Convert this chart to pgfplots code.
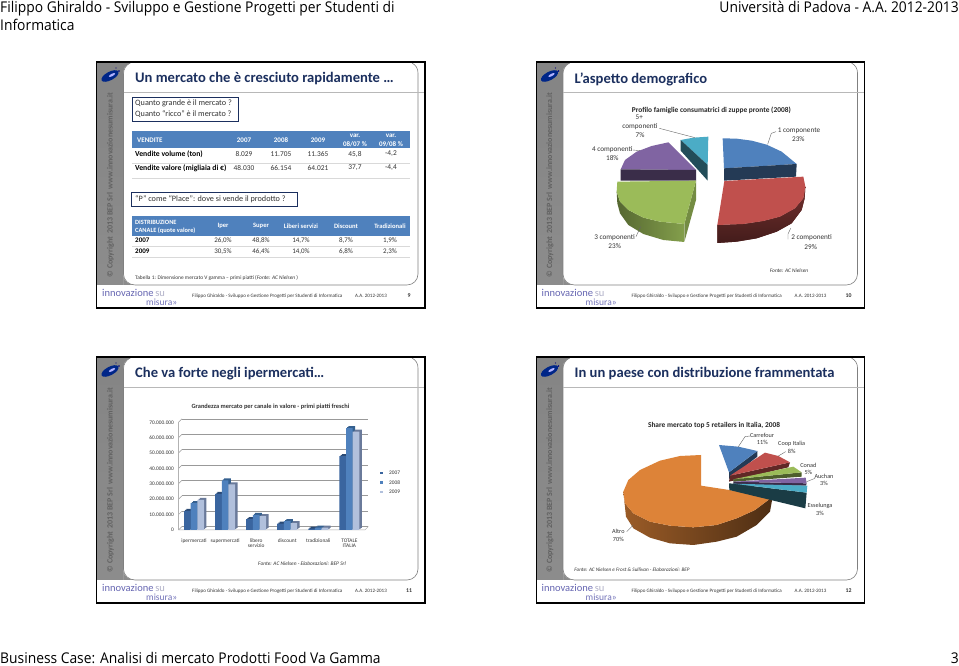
\documentclass[border=0pt]{standalone}
\usepackage{fontspec}
\usepackage{pgfplots}
\usepackage{pgfplotstable}
\pgfplotsset{compat=1.18}
\setmainfont{Carlito}
\newfontfamily\hdr[FakeStretch=0.935]{Open Sans}
\newcommand{\fs}[1]{\fontsize{#1}{#1}\selectfont}
\definecolor{navy}{HTML}{1B2F5E}
\definecolor{tabblue}{HTML}{4F81BD}
\definecolor{piered}{HTML}{C0504D}
\definecolor{piegreen}{HTML}{9BBB59}
\definecolor{piepurple}{HTML}{8064A2}
\definecolor{pieteal}{HTML}{4BACC6}
\definecolor{pieorange}{HTML}{DD8338}
\definecolor{txt}{HTML}{333333}
\definecolor{barA}{HTML}{3A659F}
\definecolor{barB}{HTML}{4F81BD}
\definecolor{barC}{HTML}{B1C0DC}
\definecolor{sideA}{HTML}{2A4A75}
\definecolor{sideB}{HTML}{35608F}
\definecolor{sideC}{HTML}{6A7A9A}
\pgfplotstableread{
x a b c
0 12.5 17.4 19.5
1 23.4 32.2 29.7
2 7.1 9.8 9.0
3 4.2 5.8 4.4
4 0.9 1.5 1.5
5 48.0 66.2 64.0
}\bardata
\newcommand{\slide}[4]{%
\begin{scope}[shift={(#1pt,-#2pt)}]
\shade[top color=black!48,middle color=black!28,bottom color=black!45] (97,63) rectangle (150,285);
\fill[white] (123.5,285) -- (123.5,72) to[out=90,in=180] (135,62.5) -- (407,62.5) to[out=0,in=90] (418,73) -- (418,274) to[out=-90,in=0] (407,285) -- (135,285) to[out=180,in=-90] (123.5,275) -- cycle;
\draw[black!50,line width=0.6pt] (130,63) to[out=-150,in=90] (123.5,74) -- (123.5,274) to[out=-90,in=180] (135,285) -- (407,285) to[out=0,in=-90] (418,274) -- (418,73) to[out=90,in=-30] (412,63);
\draw[black!28,line width=0.7pt] (123.5,92) -- (424,92);
\draw[black,line width=1.3pt] (96.7,62) rectangle (425,308);
\fill[white] (97.4,285.5) rectangle (123,307.4);
\node[anchor=west,inner sep=0pt,text=navy,font=\fs{14.6}\bfseries] at (135,79) {#3};
\node[rotate=90,text=black!62,font=\fs{8}\bfseries] at (110.5,185) {© Copyright\, 2013 BEP Srl\, www.innovazionesumisura.it};
\fill[blue!45!black!85!cyan,rotate around={28:(110,76)}] (110,76) ellipse (9.5 and 4.2);
\fill[white!70!blue,rotate around={28:(112,75)}] (112,75) ellipse (3.5 and 1.2);
\fill[blue!50!black] (119,71) circle (0.9);
\fill[blue!50!black] (116,68) circle (0.7);
\node[anchor=west,text=black!50!blue!60,font=\fs{10.5},inner sep=0pt] at (102,292.5) {innovazione\,{\color{blue!30!black!30}su}};
\node[anchor=west,text=black!50!blue!55,font=\fs{9.5},inner sep=0pt] at (146,302.6) {misura»};
\node[anchor=west,text=txt,font=\fs{5.05},inner sep=0pt] at (192,296) {Filippo Ghiraldo - Sviluppo e Gestione Progetti per Studenti di Informatica};
\node[anchor=west,text=txt,font=\fs{5.05},inner sep=0pt] at (355,296) {A.A. 2012-2013};
\node[text=txt,font=\fs{5.8}\bfseries,inner sep=0pt] at (409,296) {#4};
\end{scope}}
\begin{document}
\begin{tikzpicture}
\useasboundingbox (0,0) rectangle (959pt,666pt);
\begin{scope}[x=1pt,y=-1pt,shift={(0pt,666pt)}]
\fill[white] (0,0) rectangle (959,666);
% page text
\node[anchor=base west,inner sep=0pt,font=\hdr\fs{14.8}] at (0,13) {Filippo Ghiraldo - Sviluppo e Gestione Progetti per Studenti di};
\node[anchor=base west,inner sep=0pt,font=\hdr\fs{14.8}] at (0,30.5) {Informatica};
\node[anchor=base east,inner sep=0pt,font=\hdr\fs{14.8}] at (959,13) {Università di Padova - A.A. 2012-2013};
\node[anchor=base west,inner sep=0pt,font=\hdr\fs{14.8}] at (0,664) {Business Case: Analisi di mercato Prodotti Food Va Gamma};
\node[anchor=base east,inner sep=0pt,font=\hdr\fs{14.8}] at (959,664) {3};
\slide{0}{0}{Un mercato che è cresciuto rapidamente …}{9}
\slide{439.5}{0}{L’aspetto demografico}{10}
\slide{0}{295}{Che va forte negli ipermercati…}{11}
\slide{439.5}{295}{In un paese con distribuzione frammentata}{12}
% slide 1 content
\draw[navy,line width=0.8pt] (132,97) rectangle (238,121);
\node[anchor=west,inner sep=0pt,font=\fs{8.2},text=txt] at (135,103) {Quanto grande è il mercato ?};
\node[anchor=west,inner sep=0pt,font=\fs{8.2},text=txt] at (135,114) {Quanto “ricco” è il mercato ?};
\fill[tabblue] (132,131) rectangle (410,148);
\node[anchor=west,inner sep=0pt,font=\fs{7}\bfseries,text=white] at (137,140) {VENDITE};
\node[font=\fs{7}\bfseries,text=white] at (244,140) {2007};
\node[font=\fs{7}\bfseries,text=white] at (281,140) {2008};
\node[font=\fs{7}\bfseries,text=white] at (318,140) {2009};
\node[font=\fs{7}\bfseries,text=white] at (355,136) {var.};
\node[font=\fs{7}\bfseries,text=white] at (355,144) {08/07 \%};
\node[font=\fs{7}\bfseries,text=white] at (391,136) {var.};
\node[font=\fs{7}\bfseries,text=white] at (391,144) {09/08 \%};
\draw[black!15,line width=0.6pt] (132,163) -- (410,163);
\draw[black!15,line width=0.6pt] (132,178) -- (410,178);
\node[anchor=west,inner sep=0pt,font=\fs{7.7}\bfseries] at (135,154) {Vendite volume (ton)};
\node[anchor=west,inner sep=0pt,font=\fs{7.7}\bfseries] at (135,168) {Vendite valore (migliaia di €)};
\foreach \x/\a/\b in {244/8.029/48.030,281/11.705/66.154,318/11.365/64.021,355/45{,}8/37{,}7,391/-4{,}2/-4{,}4}{
\node[font=\fs{7.4},text=txt] at (\x,154) {\a};
\node[font=\fs{7.4},text=txt] at (\x,168) {\b};}
\draw[navy,line width=0.8pt] (131,192) rectangle (297,206);
\node[anchor=west,inner sep=0pt,font=\fs{8.2},text=txt] at (135,199) {“P” come “Place”: dove si vende il prodotto ?};
\fill[tabblue] (132,216) rectangle (410,236);
\node[anchor=west,inner sep=0pt,font=\fs{6.4}\bfseries,text=white] at (135,222) {DISTRIBUZIONE};
\node[anchor=west,inner sep=0pt,font=\fs{6.4}\bfseries,text=white] at (135,231) {CANALE (quote valore)};
\node[font=\fs{6.6}\bfseries,text=white] at (223,226) {Iper};
\node[font=\fs{6.6}\bfseries,text=white] at (261,226) {Super};
\node[font=\fs{6.6}\bfseries,text=white] at (301,226) {Liberi servizi};
\node[font=\fs{6.6}\bfseries,text=white] at (346,226) {Discount};
\node[font=\fs{6.6}\bfseries,text=white] at (390,226) {Tradizionali};
\draw[black!15,line width=0.6pt] (132,246) -- (410,246);
\draw[black!15,line width=0.6pt] (132,257) -- (410,257);
\node[anchor=west,inner sep=0pt,font=\fs{7}\bfseries] at (135,240) {2007};
\node[anchor=west,inner sep=0pt,font=\fs{7}\bfseries] at (135,251) {2009};
\foreach \x/\a/\b in {223/26{,}0\%/30{,}5\%,261/48{,}8\%/46{,}4\%,301/14{,}7\%/14{,}0\%,346/8{,}7\%/6{,}8\%,390/1{,}9\%/2{,}3\%}{
\node[font=\fs{7},text=txt] at (\x,241) {\a};
\node[font=\fs{7},text=txt] at (\x,252) {\b};}
\node[anchor=west,inner sep=0pt,font=\fs{5.4},text=txt] at (135,278) {Tabella 1: Dimensione mercato V gamma – primi piatti (\textit{Fonte: AC Nielsen} )};
% slide 3 text
\node[font=\fs{6.4}\bfseries,text=txt] at (270.5,407) {Grandezza mercato per canale in valore - primi piatti freschi};
\node[font=\fs{5.4}\itshape,text=txt] at (302,564) {Fonte: AC Nielsen - Elaborazioni: BEP Srl};
\foreach \y/\c/\t in {473/barA/2007,482.5/barB/2008,492/barC/2009}{
\fill[\c] (380,\y-1.4) rectangle (382.8,\y+1.4);
\node[anchor=west,inner sep=0pt,font=\fs{5.4},text=txt] at (389,\y) {\t};}
\end{scope}

% ---- pie slide 2
\begin{axis}[at={(530pt,356pt)},anchor=south west,scale only axis,width=335pt,height=250pt,
 xmin=0,xmax=1005,ymin=0,ymax=750,y dir=reverse,axis lines=none,clip=false]
\addplot[fill=pieteal,draw=none] coordinates {(452,240)(490,233)(535,230)(533,315)} --cycle;
\addplot[fill=pieteal!45!black,draw=none] coordinates {(452,240)(533,315)(533,362)(452,272)} --cycle;
\addplot[fill=piepurple,draw=none] coordinates {(415,247)(498,330)(272,328)(285,300)(320,275)(365,258)} --cycle;
\addplot[fill=piepurple!45!black,draw=none] coordinates {(272,328)(498,330)(498,362)(272,362)} --cycle;
\addplot[fill=tabblue,draw=none] coordinates {(578,235)(620,236)(665,242)(710,254)(755,275)(800,312)(582,325)} --cycle;
\addplot[fill=tabblue!45!black,draw=none] coordinates {(582,325)(800,312)(798,350)(582,362)} --cycle;
\addplot[fill=piered!50!black,draw=none,left color=piered!60!black,right color=piered!35!black,shading angle=0] coordinates {(562,495)(640,492)(700,483)(750,470)(795,445)(820,415)(826,380)(824,415)(815,450)(785,490)(740,515)(680,535)(620,545)(562,549)} --cycle;
\addplot[fill=piered,draw=none] coordinates {(583,363)(820,350)(826,380)(820,415)(795,445)(750,470)(700,483)(640,492)(562,495)} --cycle;
\addplot[draw=none,left color=piegreen!55!black,right color=piegreen!85!black] coordinates {(260,395)(270,425)(295,450)(340,473)(390,485)(463,492)(463,546)(400,540)(340,522)(295,495)(270,460)(262,430)} --cycle;
\addplot[fill=piegreen!75!black,draw=none] coordinates {(498,362)(463,492)(463,546)(498,420)} --cycle;
\addplot[fill=piegreen,draw=none] coordinates {(498,362)(262,365)(260,395)(270,425)(295,450)(340,473)(390,485)(463,492)} --cycle;
\addplot[black!60,line width=0.4pt] coordinates {(388,205)(495,233)};
\addplot[black!60,line width=0.4pt] coordinates {(308,270)(330,272)};
\addplot[black!60,line width=0.4pt] coordinates {(738,215)(724,220)(713,253)};
\addplot[black!60,line width=0.4pt] coordinates {(318,530)(332,500)};
\addplot[black!60,line width=0.4pt] coordinates {(782,505)(774,522)(774,538)};
\node[font=\fs{7.4}\bfseries,text=black!85] at (axis cs:544,150) {Profilo famiglie consumatrici di zuppe pronte (2008)};
\tikzset{lb/.style={font=\fs{7.2},text=txt,inner sep=0pt}}
\node[lb] at (axis cs:328,172) {5+};
\node[lb] at (axis cs:330,200) {componenti};
\node[lb] at (axis cs:330,226) {7\%};
\node[lb] at (axis cs:247,268) {4 componenti};
\node[lb] at (axis cs:247,295) {18\%};
\node[lb] at (axis cs:807,213) {1 componente};
\node[lb] at (axis cs:805,238) {23\%};
\node[lb] at (axis cs:254,533) {3 componenti};
\node[lb] at (axis cs:254,558) {23\%};
\node[lb] at (axis cs:845,533) {2 componenti};
\node[lb] at (axis cs:842,560) {29\%};
\node[font=\fs{5.4}\itshape,text=txt] at (axis cs:777,632) {Fonte: AC Nielsen};
\end{axis}

% ---- pie slide 4
\begin{axis}[at={(530pt,61pt)},anchor=south west,scale only axis,width=335pt,height=250pt,
 xmin=0,xmax=1005,ymin=0,ymax=750,y dir=reverse,axis lines=none,clip=false]
\addplot[draw=none,left color=pieorange!70!black,middle color=pieorange!75!black,right color=pieorange!35!black] coordinates {(280,410)(285,445)(310,475)(360,500)(420,512)(490,517)(560,510)(620,490)(675,465)(728,425)(720,470)(680,510)(620,545)(560,560)(490,570)(420,565)(360,548)(310,520)(288,485)} --cycle;
\addplot[fill=pieorange,draw=none] coordinates {(513,300)(450,303)(390,317)(330,345)(295,375)(280,410)(285,445)(310,475)(360,500)(420,512)(490,517)(560,510)(620,490)(675,465)(728,425)(513,392)} --cycle;
\addplot[fill=tabblue!45!black,draw=none] coordinates {(682,288)(682,305)(597,372)(597,352)} --cycle;
\addplot[fill=tabblue,draw=none] coordinates {(567,270)(625,275)(682,288)(597,352)} --cycle;
\addplot[fill=piered!50!black,draw=none] coordinates {(600,362)(780,322)(775,337)(597,380)} --cycle;
\addplot[fill=piered,draw=none] coordinates {(705,293)(745,303)(780,322)(600,362)} --cycle;
\addplot[fill=piegreen!50!black,draw=none] coordinates {(610,373)(815,352)(815,365)(610,380)} --cycle;
\addplot[fill=piegreen,draw=none] coordinates {(790,335)(815,352)(610,373)} --cycle;
\addplot[fill=piepurple!45!black,draw=none] coordinates {(610,380)(830,385)(828,392)(610,392)} --cycle;
\addplot[fill=piepurple,draw=none] coordinates {(827,368)(830,385)(610,380)} --cycle;
\addplot[fill=pieteal!35!black,draw=none] coordinates {(597,385)(610,386)(830,413)(826,460)(598,405)} --cycle;
\addplot[fill=pieteal,draw=none] coordinates {(610,386)(832,392)(830,413)} --cycle;
\addplot[black!60,line width=0.4pt] coordinates {(660,243)(645,245)(625,275)};
\addplot[black!60,line width=0.4pt] coordinates {(767,290)(745,303)};
\addplot[black!60,line width=0.4pt] coordinates {(855,370)(830,380)};
\addplot[black!60,line width=0.4pt] coordinates {(290,530)(310,510)};
\node[font=\fs{7.4}\bfseries,text=black!85] at (axis cs:552,212) {Share mercato top 5 retailers in Italia, 2008};
\tikzset{lb/.style={font=\fs{6.2},text=txt,inner sep=0pt}}
\node[lb] at (axis cs:696,240) {Carrefour};
\node[lb] at (axis cs:697,262) {11\%};
\node[lb] at (axis cs:785,268) {Coop Italia};
\node[lb] at (axis cs:785,290) {8\%};
\node[lb] at (axis cs:835,330) {Conad};
\node[lb] at (axis cs:835,352) {5\%};
\node[lb] at (axis cs:882,363) {Auchan};
\node[lb] at (axis cs:882,385) {3\%};
\node[lb] at (axis cs:870,453) {Esselunga};
\node[lb] at (axis cs:870,475) {3\%};
\node[lb] at (axis cs:265,530) {Altro};
\node[lb] at (axis cs:265,552) {70\%};
\node[font=\fs{5.2}\itshape,text=txt] at (axis cs:306,645) {Fonte: AC Nielsen e Frost \& Sullivan - Elaborazioni: BEP};
\end{axis}

% ---- bar chart slide 3
\begin{axis}[at={(178.5pt,136pt)},anchor=south west,scale only axis,width=186.4pt,height=107.7pt,
 xmin=-0.5,xmax=5.5,ymin=0,ymax=70,clip=false,
 axis line style={draw=none},tick style={draw=none},
 ytick={0,10,20,30,40,50,60,70},
 yticklabels={0,10.000.000,20.000.000,30.000.000,40.000.000,50.000.000,60.000.000,70.000.000},
 xtick={0,1,2,3,4,5},
 xticklabels={ipermercati,supermercati,{libero\\servizio},discount,tradizionali,{TOTALE\\ITALIA}},
 ticklabel style={font=\fs{5.4},text=txt},
 xticklabel style={align=center,yshift=-5pt},
 yticklabel style={xshift=-1pt},
 ymajorgrids,grid style={draw=black!40,line width=0.5pt,xshift=3.5pt,yshift=3.5pt}]
\pgfplotsinvokeforeach{0,10,20,30,40,50,60,70}{\draw[black!40,line width=0.5pt] (axis cs:-0.5,#1) -- ++(3.5pt,3.5pt);}
\draw[black!30,line width=0.5pt] (axis cs:-0.5,0) -- (axis cs:-0.5,70);
\draw[black!35,line width=0.5pt] (axis cs:-0.5,0) -- (axis cs:5.5,0) -- ++(3.5pt,3.5pt);
\addplot[ybar,bar width=6.67pt,bar shift=-6.67pt,fill=sideA,draw=none,xshift=1.2pt,yshift=1pt] table[x=x,y=a] {\bardata};
\addplot[ybar,bar width=6.67pt,bar shift=-6.67pt,fill=sideA,draw=none,xshift=2.4pt,yshift=2pt] table[x=x,y=a] {\bardata};
\addplot[ybar,bar width=6.67pt,bar shift=-6.67pt,fill=barA,draw=none] table[x=x,y=a] {\bardata};
\addplot[ybar,bar width=6.67pt,bar shift=0pt,fill=sideB,draw=none,xshift=1.2pt,yshift=1pt] table[x=x,y=b] {\bardata};
\addplot[ybar,bar width=6.67pt,bar shift=0pt,fill=sideB,draw=none,xshift=2.4pt,yshift=2pt] table[x=x,y=b] {\bardata};
\addplot[ybar,bar width=6.67pt,bar shift=0pt,fill=barB,draw=none] table[x=x,y=b] {\bardata};
\addplot[ybar,bar width=6.67pt,bar shift=6.67pt,fill=sideC,draw=none,xshift=1.2pt,yshift=1pt] table[x=x,y=c] {\bardata};
\addplot[ybar,bar width=6.67pt,bar shift=6.67pt,fill=sideC,draw=none,xshift=2.4pt,yshift=2pt] table[x=x,y=c] {\bardata};
\addplot[ybar,bar width=6.67pt,bar shift=6.67pt,fill=barC,draw=none] table[x=x,y=c] {\bardata};
\end{axis}
\end{tikzpicture}
\end{document}
